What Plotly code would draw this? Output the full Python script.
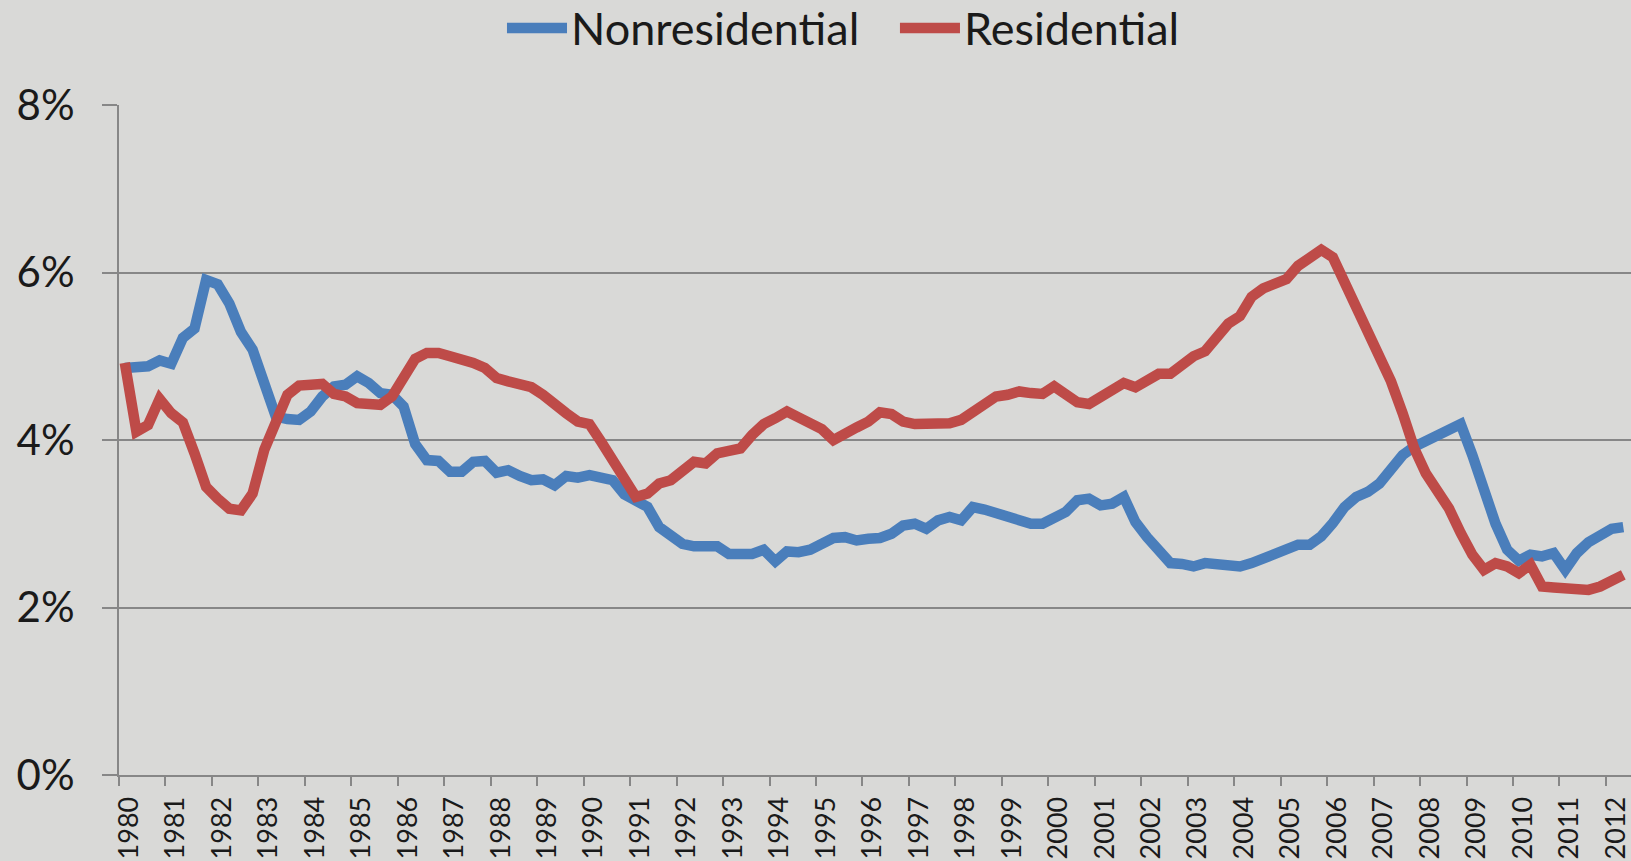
import plotly.graph_objects as go

# Quarterly observations, 1980Q1 .. 2012Q2 (values in %)
quarters = [f"{y}Q{q}" for y in range(1980, 2013) for q in range(1, 5)][:130]

nonresidential = [
    4.86, 4.86, 4.88, 4.95, 4.91, 5.22, 5.33, 5.91, 5.86, 5.63,
    5.29, 5.08, 4.70, 4.28, 4.25, 4.24, 4.34, 4.52, 4.64, 4.66,
    4.76, 4.68, 4.56, 4.54, 4.40, 3.95, 3.76, 3.75, 3.62, 3.62,
    3.74, 3.75, 3.61, 3.64, 3.57, 3.52, 3.53, 3.46, 3.57, 3.55,
    3.58, 3.54, 3.52, 3.35, 3.29, 3.20, 2.96, 2.85, 2.76, 2.73,
    2.73, 2.73, 2.64, 2.63, 2.64, 2.69, 2.55, 2.67, 2.66, 2.69,
    2.77, 2.83, 2.84, 2.80, 2.82, 2.83, 2.88, 2.98, 3.00, 2.94,
    3.04, 3.08, 3.04, 3.20, 3.17, 3.12, 3.08, 3.02, 3.00, 3.00,
    3.06, 3.14, 3.28, 3.30, 3.22, 3.24, 3.32, 3.02, 2.84, 2.69,
    2.53, 2.52, 2.49, 2.53, 2.51, 2.49, 2.49, 2.53, 2.59, 2.63,
    2.71, 2.75, 2.75, 2.85, 3.01, 3.20, 3.32, 3.38, 3.48, 3.65,
    3.82, 3.92, 3.99, 4.08, 4.12, 4.19, 3.82, 3.38, 3.00, 2.69,
    2.56, 2.63, 2.61, 2.65, 2.45, 2.65, 2.78, 2.86, 2.94, 2.96,
]

residential = [
    4.92, 4.10, 4.18, 4.49, 4.32, 4.21, 3.84, 3.44, 3.30, 3.18,
    3.16, 3.36, 3.88, 4.24, 4.54, 4.65, 4.66, 4.67, 4.55, 4.52,
    4.44, 4.42, 4.42, 4.52, 4.72, 4.97, 5.04, 5.04, 5.00, 4.97,
    4.92, 4.86, 4.74, 4.70, 4.65, 4.63, 4.54, 4.41, 4.32, 4.22,
    4.19, 3.98, 3.74, 3.54, 3.32, 3.36, 3.48, 3.52, 3.62, 3.74,
    3.72, 3.84, 3.87, 3.90, 4.06, 4.19, 4.26, 4.34, 4.27, 4.20,
    4.13, 4.00, 4.09, 4.15, 4.22, 4.33, 4.31, 4.22, 4.19, 4.19,
    4.18, 4.20, 4.24, 4.34, 4.45, 4.52, 4.54, 4.58, 4.56, 4.55,
    4.64, 4.54, 4.45, 4.43, 4.51, 4.58, 4.68, 4.63, 4.70, 4.79,
    4.79, 4.90, 5.00, 5.06, 5.23, 5.39, 5.48, 5.71, 5.81, 5.86,
    5.92, 6.08, 6.19, 6.27, 6.18, 5.89, 5.53, 5.24, 4.96, 4.70,
    4.32, 3.90, 3.60, 3.40, 3.18, 2.89, 2.63, 2.45, 2.53, 2.49,
    2.41, 2.51, 2.25, 2.24, 2.22, 2.22, 2.21, 2.25, 2.33, 2.39,
]

series_names = ["Nonresidential", "Residential"]
year_ticks = list(range(1980, 2013))
y_ticks = [0, 2, 4, 6, 8]
y_tick_text = ["0%", "2%", "4%", "6%", "8%"]

# position each quarter at its mid-point on a continuous year axis
x_pos = [int(q[:4]) + (int(q[-1]) - 0.5) / 4 for q in quarters]

BLUE = "#4a7ebb"
RED = "#be4b48"
GRID = "#878787"
BG = "#d9d9d7"
TXT = "#1a1a1a"
FONT = "Lato"
LW = 10.5

fig = go.Figure()
fig.add_trace(go.Scatter(x=x_pos, y=nonresidential, mode="lines", name=series_names[0],
                         line=dict(color=BLUE, width=LW), text=quarters, showlegend=False))
fig.add_trace(go.Scatter(x=x_pos, y=residential, mode="lines", name=series_names[1],
                         line=dict(color=RED, width=LW), text=quarters, showlegend=False))

# Legend drawn at the top (swatch line + label), in paper coordinates
legend_y = 1.115
legend_items = [
    (BLUE, 0.2566, 0.2963, 0.2976, series_names[0]),
    (RED, 0.5165, 0.5562, 0.5575, series_names[1]),
]
for color, x0, x1, xt, label in legend_items:
    fig.add_shape(type="line", xref="paper", yref="paper", x0=x0, x1=x1,
                  y0=legend_y, y1=legend_y, line=dict(color=color, width=LW))
    fig.add_annotation(xref="paper", yref="paper", x=xt, y=legend_y, text=label,
                       showarrow=False, xanchor="left", yanchor="middle",
                       font=dict(size=45, family=FONT, color=TXT))

fig.update_layout(
    width=1631, height=861,
    paper_bgcolor=BG, plot_bgcolor=BG,
    margin=dict(l=119, r=0, t=105, b=86, pad=0),
    font=dict(family=FONT, color=TXT),
    showlegend=False,
)
fig.update_xaxes(
    range=[1980, 2012.54], tickmode="array", tickvals=year_ticks,
    ticktext=[str(y) for y in year_ticks], tickangle=-90,
    ticks="outside", ticklen=9, tickwidth=2, tickcolor=GRID,
    showline=True, linecolor=GRID, linewidth=2, showgrid=False, zeroline=False,
    tickfont=dict(size=27, family=FONT, color=TXT),
    ticklabelshift=10,
)
fig.update_yaxes(
    range=[0, 8], tickmode="array", tickvals=y_ticks, ticktext=y_tick_text,
    ticks="outside", ticklen=15, tickwidth=2, tickcolor=GRID,
    showline=True, linecolor=GRID, linewidth=2,
    showgrid=True, gridcolor=GRID, gridwidth=2, zeroline=False,
    tickfont=dict(size=42, family=FONT, color=TXT),
    ticklabelstandoff=19,
)

fig.write_html(
    "out.html",
    config={"displayModeBar": False},
    post_script="document.body.style.margin='0';document.body.style.overflow='hidden';",
)
